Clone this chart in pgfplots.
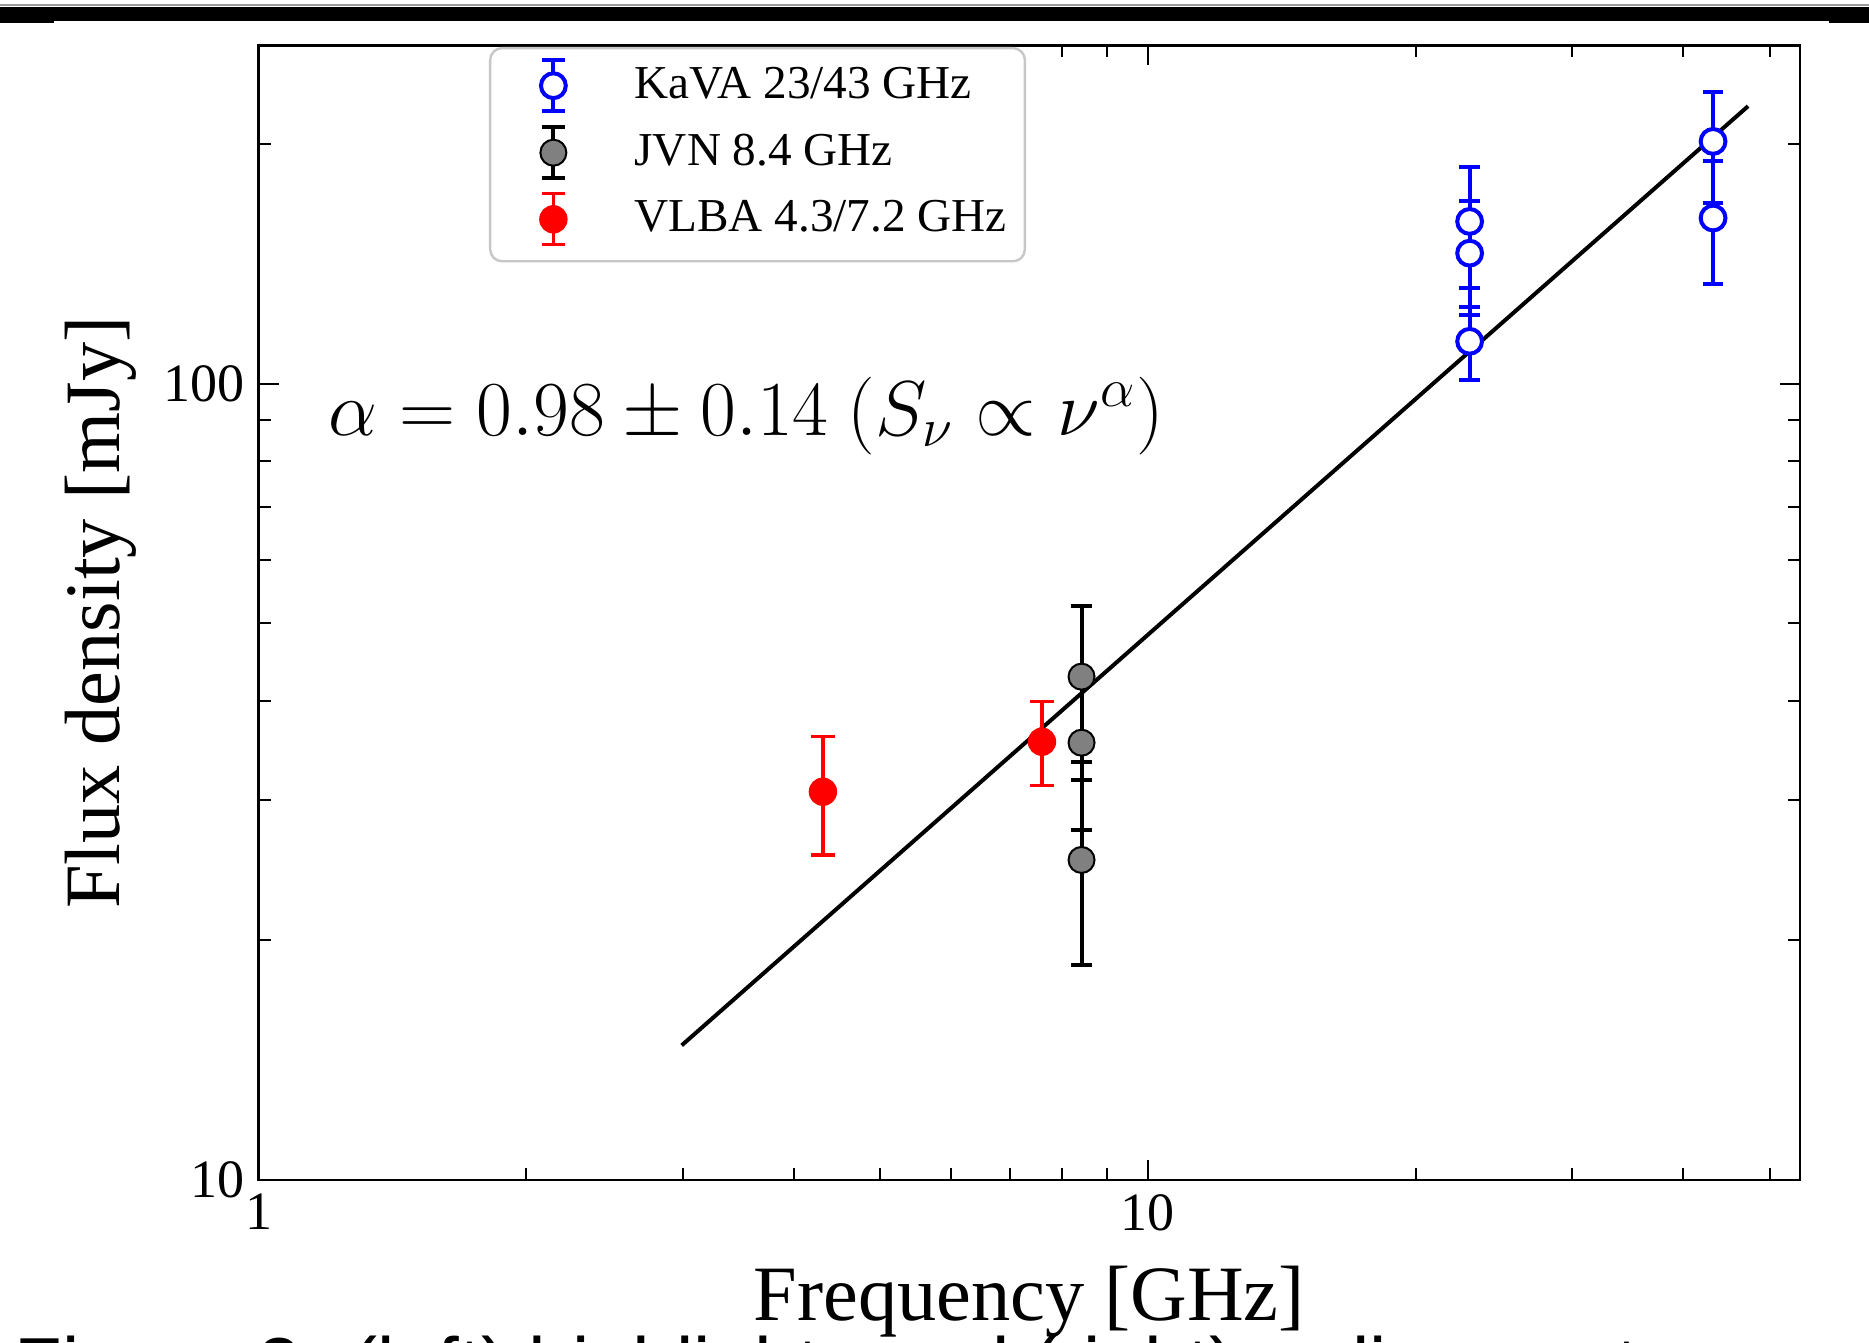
\RequirePackage{fix-cm}
\documentclass[border=0pt]{standalone}
\usepackage{pgfplots}
\pgfplotsset{compat=1.18}
\usepackage{fontspec}
\setmainfont{Liberation Serif}
\newfontfamily\capfont{Liberation Sans}
\pgfplotstableread{
x y ep em
23.0 159.8 27.3 27.9
23.0 145.8 23.6 23.8
23.0 113.0 11.9 11.9
43.2 201.4 30.8 32.9
43.2 161.4 28.7 27.9
}\kava
\pgfplotstableread{
x y ep em
8.42 42.86 9.7 9.4
8.42 35.41 7.9 7.9
8.42 25.23 6.6 6.6
}\jvn
\pgfplotstableread{
x y ep em
4.31 30.73 5.3 5.14
7.60 35.51 4.36 4.25
}\vlba
\begin{document}
\begin{tikzpicture}
\useasboundingbox (0,0) rectangle (467.25pt,-335.5pt);
\clip (0,0) rectangle (467.25pt,-335.5pt);
\fill[black!40] (0,-1.0pt) rectangle (467.25pt,-1.4pt);
\fill[black] (0,-1.7pt) rectangle (467.25pt,-5.25pt);
\fill[black] (0,-1.7pt) rectangle (13.5pt,-5.75pt);
\fill[black] (457.3pt,-1.7pt) rectangle (467.25pt,-5.75pt);
\begin{axis}[
  at={(64.68pt,-295pt)}, anchor=south west,
  scale only axis, width=385.3pt, height=283.7pt,
  xmode=log, ymode=log,
  xmin=1, xmax=54.1, ymin=10, ymax=266,
  xtick={1,10}, xticklabels={1,10},
  ytick={10,100}, yticklabels={10,100},
  minor xtick={2,3,4,5,6,7,8,9,20,30,40,50},
  minor ytick={20,30,40,50,60,70,80,90,200},
  tick align=inside,
  major tick length=5pt, minor tick length=3pt,
  every tick/.style={black, line width=0.5pt},
  axis line style={line width=0.7pt},
  ticklabel style={font=\fontsize{13.5}{15}\selectfont},
  xlabel={Frequency [GHz]}, ylabel={Flux density [mJy]},
  label style={font=\fontsize{19.6}{22}\selectfont},
  xlabel style={at={(axis description cs:0.5,-0.1234)}, anchor=base},
  ylabel style={at={(axis description cs:-0.1023,0.5)}, anchor=center},
  legend cell align=left,
  legend style={at={(0.1494,0.9985)}, anchor=north west, draw=black!22,
    rounded corners=3pt, line width=0.6pt, fill=white,
    inner xsep=4.5pt, inner ysep=2.5pt,
    font=\fontsize{11.8}{13}\selectfont, row sep=1.85pt,
    nodes={inner sep=0pt, text depth=0.15em},
    /tikz/every odd column/.append style={column sep=16.9pt}},
]
\addplot[black, line width=1pt, forget plot] coordinates {(2.99,14.76) (47.3,223)};

\addplot[only marks, mark=*, mark size=3.1pt,
  mark options={draw=blue, fill=white, line width=1pt},
  error bars/.cd, y dir=both, y explicit,
  error bar style={blue, line width=1pt},
  error mark options={rotate=90, blue, line width=1pt, mark size=2.6pt},
  /pgfplots/legend image code/.code={%
    \path[draw=none, fill=none] (-11.3pt,-8pt) rectangle (3.4pt,6.4pt);
    \draw[blue, line width=1pt] (0pt,-6.4pt) -- (0pt,6.4pt)
      (-2.8pt,-6.4pt) -- (2.8pt,-6.4pt) (-2.8pt,6.4pt) -- (2.8pt,6.4pt);
    \draw[mark=*, mark size=3.1pt, mark options={draw=blue, fill=white, line width=1pt}] plot[only marks] coordinates {(0pt,0pt)};
  }]
  table[x=x, y=y, y error plus=ep, y error minus=em] {\kava};
\addlegendentry{KaVA 23/43 GHz}

\addplot[only marks, mark=*, mark size=3.25pt,
  mark options={draw=black, fill=black!50, line width=0.5pt},
  error bars/.cd, y dir=both, y explicit,
  error bar style={black, line width=1pt},
  error mark options={rotate=90, black, line width=1pt, mark size=2.7pt},
  /pgfplots/legend image code/.code={%
    \path[draw=none, fill=none] (-11.3pt,-8pt) rectangle (3.4pt,6.4pt);
    \draw[black, line width=1pt] (0pt,-6.4pt) -- (0pt,6.4pt)
      (-2.8pt,-6.4pt) -- (2.8pt,-6.4pt) (-2.8pt,6.4pt) -- (2.8pt,6.4pt);
    \draw[mark=*, mark size=3.25pt, mark options={draw=black, fill=black!50, line width=0.5pt}] plot[only marks] coordinates {(0pt,0pt)};
  }]
  table[x=x, y=y, y error plus=ep, y error minus=em] {\jvn};
\addlegendentry{JVN 8.4 GHz}

\addplot[only marks, mark=*, mark size=3.4pt,
  mark options={draw=red, fill=red, line width=0.3pt},
  error bars/.cd, y dir=both, y explicit,
  error bar style={red, line width=0.8pt},
  error mark options={rotate=90, red, line width=0.8pt, mark size=2.9pt},
  /pgfplots/legend image code/.code={%
    \path[draw=none, fill=none] (-11.3pt,-8pt) rectangle (3.4pt,6.4pt);
    \draw[red, line width=0.8pt] (0pt,-6.4pt) -- (0pt,6.4pt)
      (-2.8pt,-6.4pt) -- (2.8pt,-6.4pt) (-2.8pt,6.4pt) -- (2.8pt,6.4pt);
    \draw[mark=*, mark size=3.4pt, mark options={draw=red, fill=red, line width=0.3pt}] plot[only marks] coordinates {(0pt,0pt)};
  }]
  table[x=x, y=y, y error plus=ep, y error minus=em] {\vlba};
\addlegendentry{VLBA 4.3/7.2 GHz}

\node[anchor=base west, inner sep=0pt, font=\fontsize{19.45}{22}\selectfont]
  at (rel axis cs:0.045,0.6564) {$\alpha = 0.98 \pm 0.14\ (S_\nu \propto \nu^\alpha)$};
\end{axis}
\node[anchor=base west, inner sep=0pt, font=\capfont\fontsize{19.5}{22}\selectfont]
  at (3.4pt,-348pt) {Figure 2: (left) highlights and (right) radio spectrum};
\end{tikzpicture}
\end{document}
